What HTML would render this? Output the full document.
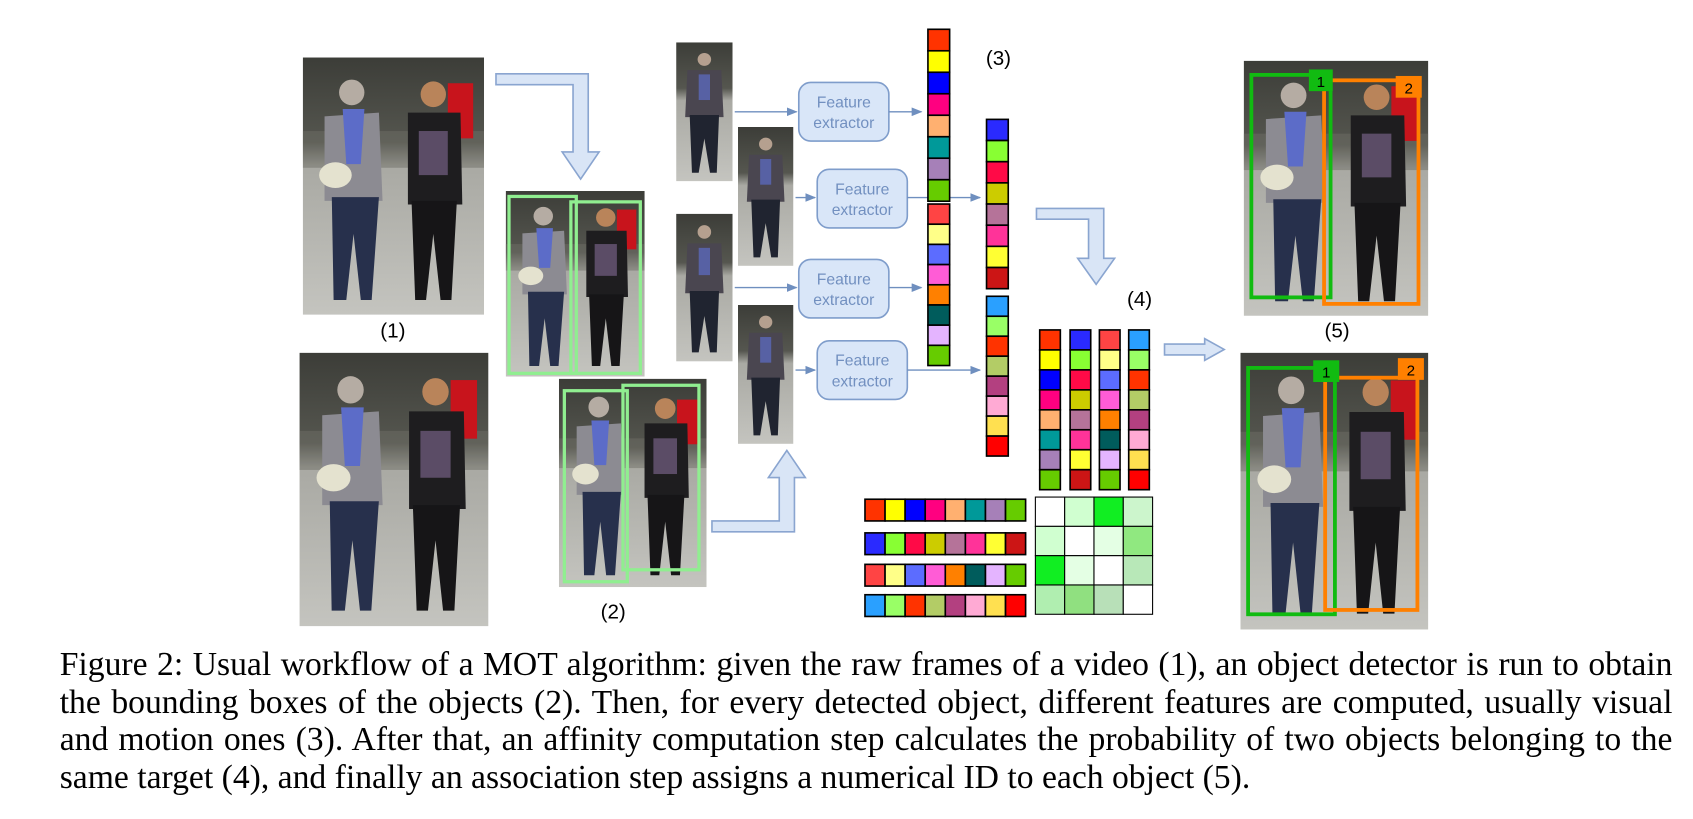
<!DOCTYPE html>
<html><head><meta charset="utf-8"><style>
html,body{margin:0;padding:0;background:#fff;}
#outer{position:relative;width:1693px;height:819px;overflow:hidden;}
#wrap{position:absolute;left:0;top:0;width:1560px;height:755px;transform:scale(1.0853);transform-origin:0 0;}
svg{position:absolute;left:0;top:0;}
.cap{position:absolute;left:55px;top:595px;width:1486px;font-family:"Liberation Serif",serif;font-size:31px;line-height:34.5px;color:#000;}
.ln{text-align:justify;text-align-last:justify;white-space:nowrap;}
.ln.last{text-align-last:left;}
</style></head><body>
<div id="outer">
<div id="wrap">
<svg id="fig" width="1560" height="600" viewBox="0 0 1560 600">
<defs>
<linearGradient id="bg" x1="0" y1="0" x2="0" y2="1">
<stop offset="0" stop-color="#3c3d38"/><stop offset="0.33" stop-color="#55564f"/><stop offset="0.42" stop-color="#a9a9a3"/><stop offset="1" stop-color="#c4c4bf"/></linearGradient>
<symbol id="photo" viewBox="0 0 100 140" preserveAspectRatio="none">
<rect width="100" height="140" fill="url(#bg)"/>
<rect x="0" y="40" width="100" height="20" fill="#6e6e66" opacity="0.5"/>
<rect x="80" y="14" width="14" height="30" fill="#c8141c"/>
<circle cx="27" cy="19" r="7" fill="#b5aca3"/>
<path d="M12 32 L42 30 L44 78 L12 78 Z" fill="#8c8b92"/>
<path d="M22 28 L34 28 L32 58 L24 58 Z" fill="#5c6cc8"/>
<ellipse cx="18" cy="64" rx="9" ry="7" fill="#e4e2cf"/>
<path d="M16 76 L42 76 L38 132 L32 132 L28 96 L24 132 L17 132 Z" fill="#27304c"/>
<circle cx="72" cy="20" r="7" fill="#b9845a"/>
<path d="M58 30 L87 30 L88 80 L58 80 Z" fill="#1e1d1f"/>
<rect x="64" y="40" width="16" height="24" fill="#5b4c66"/>
<path d="M60 78 L85 78 L82 132 L76 132 L72 96 L68 132 L62 132 Z" fill="#161517"/>
</symbol>
<symbol id="crop" viewBox="0 0 50 130" preserveAspectRatio="none">
<rect width="50" height="130" fill="url(#bg)"/>
<circle cx="25" cy="16" r="6" fill="#b5a08f"/>
<path d="M10 26 L40 26 L42 70 L8 70 Z" fill="#4a4650"/>
<rect x="20" y="30" width="10" height="24" fill="#5c6cc8" opacity="0.7"/>
<path d="M12 68 L38 68 L36 122 L30 122 L25 90 L20 122 L14 122 Z" fill="#202430"/>
</symbol>
<marker id="ah" markerWidth="10" markerHeight="8" refX="9" refY="4" orient="auto" markerUnits="userSpaceOnUse"><path d="M0 0 L10 4 L0 8 Z" fill="#6f8fbf"/></marker>
</defs>

<use href="#photo" x="279" y="53" width="167" height="237"/>
<use href="#photo" x="276" y="325" width="174" height="252"/>
<text x="362" y="311" font-family="Liberation Sans,sans-serif" font-size="19" text-anchor="middle">(1)</text>

<path d="M457 68 L542 68 L542 140 L552 140 L535 165 L518 140 L528 140 L528 78 L457 78 Z" fill="#d9e5f6" stroke="#8aa5d0" stroke-width="1.5"/>

<use href="#photo" x="466" y="176" width="128" height="171"/>
<rect x="469" y="181" width="62" height="163" fill="none" stroke="#90ee90" stroke-width="3"/>
<rect x="526" y="186" width="64" height="158" fill="none" stroke="#90ee90" stroke-width="3"/>
<use href="#photo" x="515" y="349" width="136" height="192"/>
<rect x="520" y="360" width="58" height="176" fill="none" stroke="#90ee90" stroke-width="3"/>
<rect x="574" y="355" width="70" height="170" fill="none" stroke="#90ee90" stroke-width="3"/>
<text x="565" y="570" font-family="Liberation Sans,sans-serif" font-size="19" text-anchor="middle">(2)</text>

<path d="M656 480 L718 480 L718 440 L708 440 L725 415 L742 440 L732 440 L732 490 L656 490 Z" fill="#d9e5f6" stroke="#8aa5d0" stroke-width="1.5"/>

<use href="#crop" x="623" y="39" width="52" height="128"/>
<use href="#crop" x="680" y="117" width="51" height="128"/>
<use href="#crop" x="623" y="197" width="52" height="136"/>
<use href="#crop" x="680" y="281" width="51" height="128"/>

<g id="fx"></g>
<g id="vecs"></g>

<text x="920" y="60" font-family="Liberation Sans,sans-serif" font-size="19" text-anchor="middle">(3)</text>
<path d="M955 192 L1017 192 L1017 238 L1027 238 L1010 262 L993 238 L1003 238 L1003 202 L955 202 Z" fill="#d9e5f6" stroke="#8aa5d0" stroke-width="1.5"/>
<text x="1050" y="282" font-family="Liberation Sans,sans-serif" font-size="19" text-anchor="middle">(4)</text>
<g id="matrix"></g>

<path d="M1073 317 L1110 317 L1110 312 L1128 322 L1110 332 L1110 327 L1073 327 Z" fill="#d9e5f6" stroke="#8aa5d0" stroke-width="1.5"/>

<use href="#photo" x="1146" y="56" width="170" height="235"/>
<rect x="1153" y="69" width="73" height="205" fill="none" stroke="#11bb11" stroke-width="3.5"/>
<rect x="1220" y="74" width="87" height="206" fill="none" stroke="#ff8000" stroke-width="3.5"/>
<rect x="1206" y="64" width="22" height="20" fill="#11bb11"/><text x="1217" y="80" font-family="Liberation Sans,sans-serif" font-size="14" text-anchor="middle">1</text>
<rect x="1286" y="70" width="24" height="20" fill="#ff8000"/><text x="1298" y="86" font-family="Liberation Sans,sans-serif" font-size="14" text-anchor="middle">2</text>
<text x="1232" y="311" font-family="Liberation Sans,sans-serif" font-size="19" text-anchor="middle">(5)</text>
<use href="#photo" x="1143" y="325" width="173" height="255"/>
<rect x="1150" y="339" width="80" height="227" fill="none" stroke="#11bb11" stroke-width="3.5"/>
<rect x="1221" y="348" width="85" height="214" fill="none" stroke="#ff8000" stroke-width="3.5"/>
<rect x="1210" y="332" width="24" height="20" fill="#11bb11"/><text x="1222" y="348" font-family="Liberation Sans,sans-serif" font-size="14" text-anchor="middle">1</text>
<rect x="1288" y="330" width="24" height="20" fill="#ff8000"/><text x="1300" y="346" font-family="Liberation Sans,sans-serif" font-size="14" text-anchor="middle">2</text>
</svg>
<div class="cap">
<div class="ln">Figure 2: Usual workflow of a MOT algorithm: given the raw frames of a video (1), an object detector is run to obtain</div>
<div class="ln">the bounding boxes of the objects (2). Then, for every detected object, different features are computed, usually visual</div>
<div class="ln">and motion ones (3). After that, an affinity computation step calculates the probability of two objects belonging to the</div>
<div class="ln last">same target (4), and finally an association step assigns a numerical ID to each object (5).</div>
</div>
</div>
</div>
<script>
const vecA = ["#ff3300","#ffff00","#0000ff","#ff0080","#ffb070","#009999","#a680b8","#66cc00"];
const vecB = ["#2a2aff","#88ff33","#ff0a47","#cccc00","#b57399","#ff3399","#ffff33","#cc1515"];
const vecC = ["#ff4444","#ffff88","#5c6cff","#ff5cd6","#ff8000","#005c5c","#e4b4ff","#66cc00"];
const vecD = ["#2aa0ff","#99ff66","#ff3300","#b3cc66","#b34080","#ffaad4","#ffe050","#ff0000"];
const affinity = [
 ["#ffffff","#d0ffd0","#11ee22","#ccf5cc"],
 ["#d0ffd0","#ffffff","#e4ffe4","#90e880"],
 ["#11ee22","#e4ffe4","#ffffff","#b8e8b8"],
 ["#b0eeb0","#90e080","#b8e0b8","#ffffff"]];
const NS="http://www.w3.org/2000/svg";
function mk(t,a,p){const e=document.createElementNS(NS,t);for(const k in a)e.setAttribute(k,a[k]);p.appendChild(e);return e;}
const vg=document.getElementById('vecs');
function vvec(cols,x,y,w,h,name){const g=mk('g',{},vg);


cols.forEach((c,i)=>mk('rect',{x:x,y:y+i*h,width:w,height:h,fill:c,stroke:'#000','stroke-width':1.5},g));}
function hvec(cols,x,y,w,h,name){const g=mk('g',{},vg);


cols.forEach((c,i)=>mk('rect',{x:x+i*w,y:y,width:w,height:h,fill:c,stroke:'#000','stroke-width':1.5},g));}
vvec(vecA,855,27,20,19.8,'feature-vector-a');
vvec(vecC,855,188,20,18.6,'feature-vector-c');
vvec(vecB,909,110,20,19.5,'feature-vector-b');
vvec(vecD,909,273,20,18.4,'feature-vector-d');
[[vecA,958],[vecB,986],[vecC,1013],[vecD,1040]].forEach((p,i)=>vvec(p[0],p[1],304,19,18.4,'column-vector-'+i));
[[vecA,460],[vecB,491],[vecC,520],[vecD,548]].forEach((p,i)=>hvec(p[0],797,p[1],18.5,20,'row-vector-'+i));
const mg=document.getElementById('matrix');
affinity.forEach((row,r)=>row.forEach((c,k)=>{const e=mk('rect',{x:954+k*27,y:458+r*27,width:27,height:27,fill:c,stroke:'#000','stroke-width':1},mg);

}));
const fx=document.getElementById('fx');
const boxes=[[736,76,103,675,855],[753,156,182,731,909],[736,239,265,675,855],[753,314,341,731,909]];
boxes.forEach((b,i)=>{
 const g=mk('g',{},fx);
 
 
 mk('line',{x1:b[3]+2,y1:b[2],x2:b[0]-2,y2:b[2],stroke:'#6f8fbf','stroke-width':1.3,'marker-end':'url(#ah)'},g);
 mk('rect',{x:b[0],y:b[1],width:83,height:54,rx:11,fill:'#d9e6f8',stroke:'#7f9dcb','stroke-width':1.5},g);
 mk('line',{x1:b[0]+83,y1:b[2],x2:b[4]-6,y2:b[2],stroke:'#6f8fbf','stroke-width':1.3,'marker-end':'url(#ah)'},g);
 const t1=mk('text',{x:b[0]+41.5,y:b[1]+23,'font-family':'Liberation Sans,sans-serif','font-size':14.5,fill:'#7290c0','text-anchor':'middle'},g);t1.textContent='Feature';
 const t2=mk('text',{x:b[0]+41.5,y:b[1]+42,'font-family':'Liberation Sans,sans-serif','font-size':14.5,fill:'#7290c0','text-anchor':'middle'},g);t2.textContent='extractor';
});
</script>
</body></html>
